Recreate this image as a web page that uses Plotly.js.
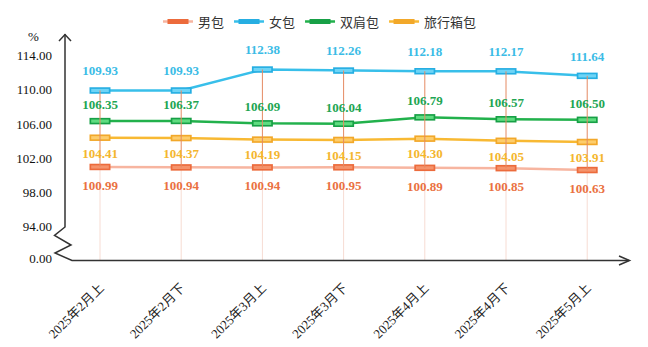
<!DOCTYPE html>
<html>
<head>
<meta charset="utf-8">
<script src="https://cdn.plot.ly/plotly-3.0.1.min.js"></script>
<style>html,body{margin:0;padding:0;background:#fff;}#chart{width:648px;height:347px;}</style>
</head>
<body>
<div id="chart"></div>
<script>
// ---- data ----
const categories = ['2025年2月上','2025年2月下','2025年3月上','2025年3月下','2025年4月上','2025年4月下','2025年5月上'];
const nanbao = [100.99, 100.94, 100.94, 100.95, 100.89, 100.85, 100.63];          // 男包
const nvbao = [109.93, 109.93, 112.38, 112.26, 112.18, 112.17, 111.64];           // 女包
const shuangjianbao = [106.35, 106.37, 106.09, 106.04, 106.79, 106.57, 106.50];   // 双肩包
const lvxingxiangbao = [104.41, 104.37, 104.19, 104.15, 104.30, 104.05, 103.91];  // 旅行箱包
const seriesNames = ['男包', '女包', '双肩包', '旅行箱包'];
const yTickText = ['0.00', '94.00', '98.00', '102.00', '106.00', '110.00', '114.00'];

// ---- layout geometry (pixels) ----
const W = 648, H = 347;
const M = {l: 65, r: 18, t: 30, b: 86, autoexpand: false};
const PW = W - M.l - M.r, PH = H - M.t - M.b;
const yBase = 90;                 // bottom of the broken axis
const yTickPos = [90.3, 94, 98, 102, 106, 110, 114];
const px = x => (x - M.l) / PW;
const py = y => 1 - (y - M.t) / PH;

const styles = {
  '男包':   {line: '#F7B5A0', border: '#EC6B3C', fill: '#F5936B', label: '#EA7141', pos: 'bottom center', lsize: 19.5},
  '女包':   {line: '#38BFEA', border: '#26AEE2', fill: '#6ED4F6', label: '#3BBCE6', pos: 'top center', lsize: 17.4},
  '双肩包': {line: '#22B14C', border: '#17A046', fill: '#5FDC80', label: '#21A552', pos: 'top center', lsize: 12.6},
  '旅行箱包': {line: '#F8B933', border: '#F2A82A', fill: '#FDCD6C', label: '#F4B62E', pos: 'bottom center', lsize: 14.5}
};
const seriesData = {'男包': nanbao, '女包': nvbao, '双肩包': shuangjianbao, '旅行箱包': lvxingxiangbao};

const traces = [];

// drop lines (lowest point to axis)
const dropX = [], dropY = [];
categories.forEach((c, i) => {
  const lo = Math.min(nanbao[i], nvbao[i], shuangjianbao[i], lvxingxiangbao[i]);
  dropX.push(c, c, null); dropY.push(lo, yBase, null);
});
traces.push({x: dropX, y: dropY, mode: 'lines', line: {color: '#F7DCD3', width: 1}, showlegend: false, hoverinfo: 'skip', cliponaxis: false});

// series lines + outer markers
seriesNames.forEach(n => {
  const s = styles[n];
  traces.push({
    name: n, x: categories, y: seriesData[n], mode: 'lines+markers',
    line: {color: s.line, width: 2.5},
    marker: {symbol: 'line-ew', size: 15, color: s.border, line: {color: s.border, width: 6.5}},
    hoverinfo: 'x+y+name', cliponaxis: false
  });
});
// inner marker fill
seriesNames.forEach(n => {
  const s = styles[n];
  traces.push({
    x: categories, y: seriesData[n], mode: 'markers', showlegend: false, hoverinfo: 'skip',
    marker: {symbol: 'line-ew', size: 12.6, color: s.fill, line: {color: s.fill, width: 3.2}}, cliponaxis: false
  });
});

// high-low lines
const hlX = [], hlY = [];
categories.forEach((c, i) => {
  const vals = [nanbao[i], nvbao[i], shuangjianbao[i], lvxingxiangbao[i]];
  hlX.push(c, c, null); hlY.push(Math.max(...vals), Math.min(...vals), null);
});
traces.push({x: hlX, y: hlY, mode: 'lines', line: {color: '#E58A63', width: 1}, showlegend: false, hoverinfo: 'skip', cliponaxis: false});

// data labels
seriesNames.forEach(n => {
  const s = styles[n];
  traces.push({
    x: categories, y: seriesData[n], mode: 'markers+text', showlegend: false, hoverinfo: 'skip',
    marker: {size: s.lsize, color: 'rgba(0,0,0,0)'},
    text: seriesData[n].map(v => v.toFixed(2)), textposition: s.pos,
    textfont: {family: 'Liberation Serif, "Times New Roman", serif', size: 13, color: s.label, weight: 'bold'},
    cliponaxis: false
  });
});

// axis decorations (broken y axis with arrows)
const P = (x, y) => px(x).toFixed(5) + ',' + py(y).toFixed(5);
const axisPath = 'M' + P(65, 34) + ' L' + P(65, 227) + ' L' + P(54.5, 235.5) + ' L' + P(71, 245) +
  ' L' + P(55, 253) + ' L' + P(72, 260.5) + ' L' + P(629, 260.5);
const shapes = [
  {type: 'path', xref: 'paper', yref: 'paper', path: axisPath, line: {color: '#333333', width: 1.5}},
  {type: 'path', xref: 'paper', yref: 'paper', path: 'M' + P(59, 41) + ' L' + P(65, 34.5) + ' L' + P(71, 41), line: {color: '#333333', width: 1.5}},
  {type: 'path', xref: 'paper', yref: 'paper', path: 'M' + P(619, 256) + ' L' + P(629.5, 260.5) + ' L' + P(619, 265), line: {color: '#333333', width: 1.5}}
];

const layout = {
  width: W, height: H,
  margin: M,
  paper_bgcolor: '#ffffff', plot_bgcolor: '#ffffff',
  showlegend: true,
  legend: {
    orientation: 'h', x: px(320), xanchor: 'center', y: py(21.5), yanchor: 'middle',
    font: {family: '"Noto Sans CJK SC", sans-serif', size: 13, color: '#333333'},
    bgcolor: 'rgba(0,0,0,0)', traceorder: 'normal'
  },
  xaxis: {
    type: 'category', range: [-0.431, 6.527], showgrid: false, zeroline: false, showline: false,
    ticks: 'outside', ticklen: 13, tickcolor: 'rgba(0,0,0,0)', tickangle: -45,
    tickfont: {family: 'Liberation Serif, "Noto Sans CJK SC", serif', size: 13, color: '#222222'},
    fixedrange: true
  },
  yaxis: {
    range: [yBase, 117], showgrid: false, zeroline: false, showline: false, ticks: '',
    tickvals: yTickPos, ticktext: yTickText, ticklabelstandoff: 12,
    tickfont: {family: 'Liberation Serif, "Times New Roman", serif', size: 13, color: '#111111'},
    fixedrange: true
  },
  annotations: [
    {xref: 'paper', yref: 'paper', x: px(33), y: py(37), text: '%', showarrow: false,
     font: {family: 'Liberation Serif, serif', size: 13, color: '#111111'}, xanchor: 'center', yanchor: 'middle'}
  ],
  shapes: shapes
};

Plotly.newPlot('chart', traces, layout, {displayModeBar: false, staticPlot: true});
</script>
</body>
</html>
